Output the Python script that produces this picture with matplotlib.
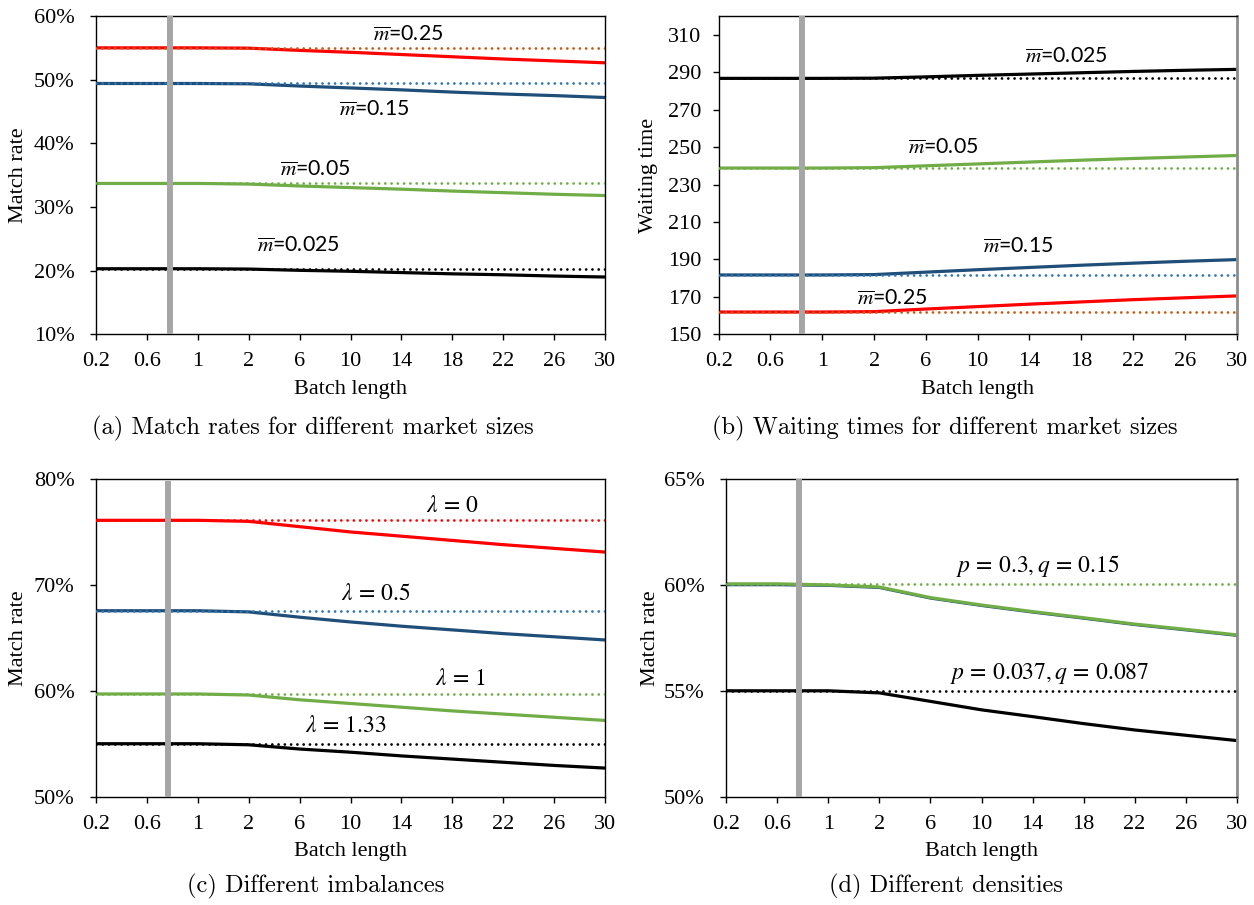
import matplotlib
matplotlib.use("Agg")
import matplotlib.pyplot as plt
from matplotlib.ticker import FuncFormatter

plt.rcParams["mathtext.fontset"] = "stix"

# Batch lengths on a categorical axis
batch = ["0.2", "0.6", "1", "2", "6", "10", "14", "18", "22", "26", "30"]

# (a) Match rate (%) for different market sizes
a_m025 = [55.0, 55.0, 55.0, 54.95, 54.6, 54.3, 53.95, 53.6, 53.25, 52.95, 52.65]
a_m015 = [49.4, 49.4, 49.4, 49.35, 49.0, 48.7, 48.4, 48.05, 47.75, 47.5, 47.2]
a_m005 = [33.7, 33.7, 33.7, 33.6, 33.3, 33.05, 32.8, 32.5, 32.25, 32.0, 31.8]
a_m0025 = [20.3, 20.3, 20.3, 20.25, 20.05, 19.9, 19.7, 19.5, 19.35, 19.15, 19.0]
a_base = {"m025": 55.0, "m015": 49.4, "m005": 33.7, "m0025": 20.3}

# (b) Waiting time for different market sizes
b_m0025 = [286.7, 286.7, 286.7, 286.8, 287.5, 288.3, 289.0, 289.7, 290.4, 291.0, 291.5]
b_m005 = [238.8, 238.8, 238.8, 239.0, 240.0, 241.0, 242.0, 243.0, 243.9, 244.7, 245.5]
b_m015 = [181.7, 181.7, 181.7, 181.9, 183.2, 184.5, 185.7, 186.9, 188.0, 189.0, 189.9]
b_m025 = [161.9, 161.9, 161.9, 162.1, 163.5, 164.8, 166.1, 167.3, 168.5, 169.5, 170.5]
b_base = {"m0025": 286.7, "m005": 238.8, "m015": 181.7, "m025": 161.9}

# (c) Match rate (%) for different imbalances
c_l0 = [76.1, 76.1, 76.1, 76.0, 75.5, 75.0, 74.6, 74.2, 73.8, 73.45, 73.1]
c_l05 = [67.56, 67.56, 67.56, 67.45, 66.95, 66.5, 66.1, 65.75, 65.4, 65.1, 64.8]
c_l1 = [59.7, 59.7, 59.7, 59.6, 59.15, 58.8, 58.45, 58.1, 57.8, 57.5, 57.2]
c_l133 = [55.0, 55.0, 55.0, 54.9, 54.5, 54.2, 53.85, 53.55, 53.25, 52.95, 52.7]
c_base = {"l0": 76.1, "l05": 67.56, "l1": 59.7, "l133": 55.0}

# (d) Match rate (%) for different densities
d_dense = [60.05, 60.05, 60.0, 59.9, 59.4, 59.05, 58.74, 58.45, 58.15, 57.9, 57.64]
d_dense_alt = [60.0, 60.0, 59.97, 59.87, 59.37, 59.02, 58.71, 58.42, 58.12, 57.87, 57.61]
d_sparse = [55.0, 55.0, 55.0, 54.9, 54.5, 54.1, 53.78, 53.45, 53.15, 52.9, 52.65]
d_base = {"dense": 60.05, "sparse": 55.0}

RED = "#ff0000"
BLUE = "#1f4e79"
GREEN = "#70ad47"
BLACK = "#000000"
BROWN = "#c55a11"
LBLUE = "#2e75b6"
GREY = "#a6a6a6"

SERIF = "Liberation Serif"
TICK_FS = 16
LABEL_FS = 16
x = list(range(len(batch)))

fig = plt.figure(figsize=(12.54, 9.05), dpi=100)
ax_a = fig.add_axes([0.0766, 0.6306, 0.4059, 0.3517])
ax_b = fig.add_axes([0.5731, 0.6306, 0.4131, 0.3517])
ax_c = fig.add_axes([0.0766, 0.1197, 0.4059, 0.3510])
ax_d = fig.add_axes([0.5792, 0.1197, 0.4070, 0.3510])


def solid(ax, vals, color, lw=2.3, z=2):
    ax.plot(x, vals, color=color, lw=lw, solid_capstyle="butt", zorder=z)


def dotted(ax, val, color):
    ax.plot(x, [val] * len(x), color=color, lw=2.0,
            linestyle=(0, (0.01, 2.25)), dash_capstyle="round", zorder=3)


def style(ax, ylim, yticks, fmt, ylabel, label_x, ypad=11.5, right_grey=False,
          bar_x=1.45, bar_top=None):
    ax.set_xlim(0, len(batch) - 1)
    ax.set_ylim(*ylim)
    ax.set_xticks(x)
    ax.set_xticklabels(batch)
    ax.set_yticks(yticks)
    ax.yaxis.set_major_formatter(FuncFormatter(fmt))
    ax.tick_params(axis="both", direction="out", length=4, width=1,
                   labelsize=TICK_FS)
    ax.tick_params(axis="x", pad=9)
    ax.tick_params(axis="y", pad=ypad)
    for lab in ax.get_xticklabels() + ax.get_yticklabels():
        lab.set_fontfamily(SERIF)
    for sp in ax.spines.values():
        sp.set_linewidth(1.0)
        sp.set_color("black")
    if right_grey:
        ax.spines["right"].set_color("#8c8c8c")
        ax.spines["right"].set_linewidth(2.0)
    ax.set_xlabel("Batch length", fontsize=LABEL_FS, fontfamily=SERIF, labelpad=6)
    ax.set_ylabel(ylabel, fontsize=LABEL_FS, fontfamily=SERIF)
    ax.yaxis.label.set_va("center")
    ax.yaxis.set_label_coords(label_x, 0.5)
    top = ylim[1] if bar_top is None else bar_top
    ax.plot([bar_x, bar_x], [ylim[0], top], color=GREY, lw=4.3,
            solid_capstyle="butt", zorder=5)


pct = lambda v, p: f"{v:.0f}%"
num = lambda v, p: f"{v:.0f}"

# (a)
solid(ax_a, a_m0025, BLACK)
solid(ax_a, a_m005, GREEN)
solid(ax_a, a_m015, BLUE)
solid(ax_a, a_m025, RED)
dotted(ax_a, a_base["m0025"], BLACK)
dotted(ax_a, a_base["m005"], GREEN)
dotted(ax_a, a_base["m015"], LBLUE)
dotted(ax_a, a_base["m025"], BROWN)
style(ax_a, (10, 60), range(10, 61, 10), pct, "Match rate", -0.153)
mlabel = dict(fontsize=15.3, fontfamily="Lato", ha="center", va="center")
ax_a.text(6.13, 57.0, r"$\overline{m}$=0.25", **mlabel)
ax_a.text(5.46, 45.2, r"$\overline{m}$=0.15", **mlabel)
ax_a.text(4.30, 35.8, r"$\overline{m}$=0.05", **mlabel)
ax_a.text(3.97, 23.9, r"$\overline{m}$=0.025", **mlabel)

# (b)
solid(ax_b, b_m0025, BLACK)
solid(ax_b, b_m005, GREEN)
solid(ax_b, b_m015, BLUE)
solid(ax_b, b_m025, RED)
dotted(ax_b, b_base["m0025"], BLACK)
dotted(ax_b, b_base["m005"], GREEN)
dotted(ax_b, b_base["m015"], LBLUE)
dotted(ax_b, b_base["m025"], BROWN)
style(ax_b, (150, 320), range(150, 311, 20), num, "Waiting time", -0.136,
      ypad=8.4, right_grey=True, bar_x=1.6)
ax_b.text(6.72, 298.3, r"$\overline{m}$=0.025", **mlabel)
ax_b.text(4.33, 249.5, r"$\overline{m}$=0.05", **mlabel)
ax_b.text(5.79, 196.8, r"$\overline{m}$=0.15", **mlabel)
ax_b.text(3.35, 168.7, r"$\overline{m}$=0.25", **mlabel)

# (c)
solid(ax_c, c_l133, BLACK)
solid(ax_c, c_l1, GREEN)
solid(ax_c, c_l05, BLUE)
solid(ax_c, c_l0, RED)
dotted(ax_c, c_base["l133"], BLACK)
dotted(ax_c, c_base["l1"], GREEN)
dotted(ax_c, c_base["l05"], LBLUE)
dotted(ax_c, c_base["l0"], RED)
style(ax_c, (50, 80), range(50, 81, 10), pct, "Match rate", -0.153,
      bar_x=1.42, bar_top=79.8)
mathlabel = dict(fontsize=17, ha="center", va="center")
ax_c.text(7.00, 77.55, r"$\lambda\,=\,0$", **mathlabel)
ax_c.text(5.49, 69.2, r"$\lambda\,=\,0.5$", **mathlabel)
ax_c.text(7.17, 61.18, r"$\lambda\,=\,1$", **mathlabel)
ax_c.text(4.90, 56.77, r"$\lambda\,=\,1.33$", **mathlabel)

# (d)
solid(ax_d, d_sparse, BLACK)
solid(ax_d, d_dense_alt, BLUE, lw=2.0)
solid(ax_d, d_dense, GREEN, lw=2.3, z=2.5)
dotted(ax_d, d_base["sparse"], BLACK)
dotted(ax_d, d_base["dense"], GREEN)
style(ax_d, (50, 65), range(50, 66, 5), pct, "Match rate", -0.149,
      right_grey=True, bar_x=1.43)
ax_d.text(6.10, 60.87, r"$p\,=\,0.3, q\,=\,0.15$", **mathlabel)
ax_d.text(6.33, 55.83, r"$p\,=\,0.037, q\,=\,0.087$", **mathlabel)

# Sub-figure captions
cap = dict(fontsize=17.6, fontfamily="cmr10", ha="center", va="center")
fig.text(0.2496, 0.527, "(a) Match rates for different market sizes", **cap)
fig.text(0.7536, 0.527, "(b) Waiting times for different market sizes", **cap)
fig.text(0.2520, 0.021, "(c) Different imbalances", **cap)
fig.text(0.7540, 0.021, "(d) Different densities", **cap)

fig.savefig("out.png", dpi=100)
